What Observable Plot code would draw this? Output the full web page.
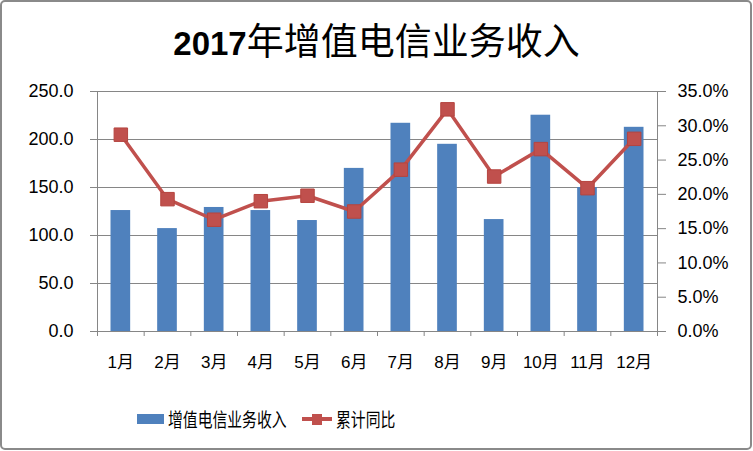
<!DOCTYPE html>
<html>
<head>
<meta charset="utf-8">
<script src="https://cdn.jsdelivr.net/npm/d3@7"></script>
<script src="https://cdn.jsdelivr.net/npm/@observablehq/plot@0.6"></script>
<style>
  html, body { margin: 0; padding: 0; background: #fff; }
  #wrap { position: relative; width: 753px; height: 451px; overflow: hidden; background: #fff; }
  #border { position: absolute; left: 0px; top: 0px; width: 748px; height: 446px; border: 2px solid #8a8a8a; border-radius: 5px; }
  #title { position: absolute; left: 0; top: 16px; width: 753px; text-align: center; font-family: "Noto Sans CJK SC", sans-serif; font-size: 37px; line-height: 46px; color: #000; white-space: nowrap; }
  #title .yr { font-family: "Liberation Sans", sans-serif; font-weight: bold; font-size: 33px; }
  #chart { position: absolute; left: 0; top: 80px; }
  .leg { position: absolute; font-family: "Noto Sans CJK SC", sans-serif; font-size: 19px; line-height: 22px; color: #000; white-space: nowrap; transform-origin: left center; transform: scaleX(0.78); }
  .sw { position: absolute; }
</style>
</head>
<body>
<div id="wrap">
  <div id="border"></div>
  <div id="title"><span class="yr">2017</span>年增值电信业务收入</div>
  <div id="chart"></div>
  <div class="sw" style="left:137px; top:414px; width:27px; height:10px; background:#4F81BD;"></div>
  <div class="leg" style="left:168px; top:408px;">增值电信业务收入</div>
  <div class="sw" style="left:302px; top:417px; width:30px; height:4px; background:#C0504D;"></div>
  <div class="sw" style="left:312px; top:414px; width:10px; height:11px; background:#C0504D;"></div>
  <div class="leg" style="left:336px; top:408px;">累计同比</div>
</div>
<script>
const months = ["1月","2月","3月","4月","5月","6月","7月","8月","9月","10月","11月","12月"];
const revenue = [126.0, 107.2, 129.2, 126.0, 115.6, 169.9, 216.9, 195.0, 116.6, 225.3, 150.0, 212.7];
const yoyPct = [28.7, 19.3, 16.3, 19.0, 19.8, 17.5, 23.6, 32.4, 22.6, 26.6, 20.9, 28.1];
const leftTicks = [0, 50, 100, 150, 200, 250];
const rightTicks = [0, 5, 10, 15, 20, 25, 30, 35];

const leftMax = 250, rightMax = 35;
const toLeft = p => p * leftMax / rightMax;

const data = months.map((m, i) => ({idx: i + 1, month: m, value: revenue[i], pct: yoyPct[i]}));
const boundaries = d3.range(0, months.length + 1).map(i => i + 0.5);

const gray = "#868686";

const chart = Plot.plot({
  width: 753,
  height: 301,
  marginTop: 11,
  marginBottom: 50,
  marginLeft: 97,
  marginRight: 96,
  style: {fontFamily: "'Liberation Sans', 'Noto Sans CJK SC', sans-serif", fontSize: "18px", background: "transparent", color: "#000"},
  x: {type: "linear", domain: [0.5, months.length + 0.5], axis: null},
  y: {domain: [0, leftMax], axis: null},
  marks: [
    Plot.gridY(leftTicks, {stroke: gray, strokeOpacity: 1, strokeWidth: 1}),
    Plot.frame({stroke: gray, strokeWidth: 1}),
    Plot.axisY({ticks: leftTicks, label: null, tickFormat: d => d.toFixed(1), tickSize: 7, tickPadding: 17, stroke: gray, fill: "#000", fontSize: 18}),
    Plot.axisY({anchor: "right", label: null, ticks: rightTicks.map(toLeft), tickFormat: d => (d * rightMax / leftMax).toFixed(1) + "%", tickSize: 8, tickPadding: 12, stroke: gray, fill: "#000", fontSize: 18}),
    Plot.axisX({ticks: boundaries, label: null, tickFormat: () => "", tickSize: 5, stroke: gray}),
    Plot.axisX({ticks: data.map(d => d.idx), label: null, tickFormat: i => months[i - 1], tickSize: 0, tickPadding: 24, fill: "#000", fontSize: 17, fontFamily: "'Liberation Sans', 'Noto Sans CJK SC', sans-serif"}),
    Plot.rectY(data, {x1: d => d.idx - 0.5, x2: d => d.idx + 0.5, y: "value", fill: "#4F81BD", insetLeft: 13.5, insetRight: 13.5}),
    Plot.line(data, {x: "idx", y: d => toLeft(d.pct), stroke: "#C0504D", strokeWidth: 3.5}),
    Plot.dot(data, {x: "idx", y: d => toLeft(d.pct), symbol: "square", r: 7.6, fill: "#C0504D", stroke: "#B5443F", strokeWidth: 1})
  ]
});
document.getElementById("chart").appendChild(chart);
</script>
</body>
</html>
